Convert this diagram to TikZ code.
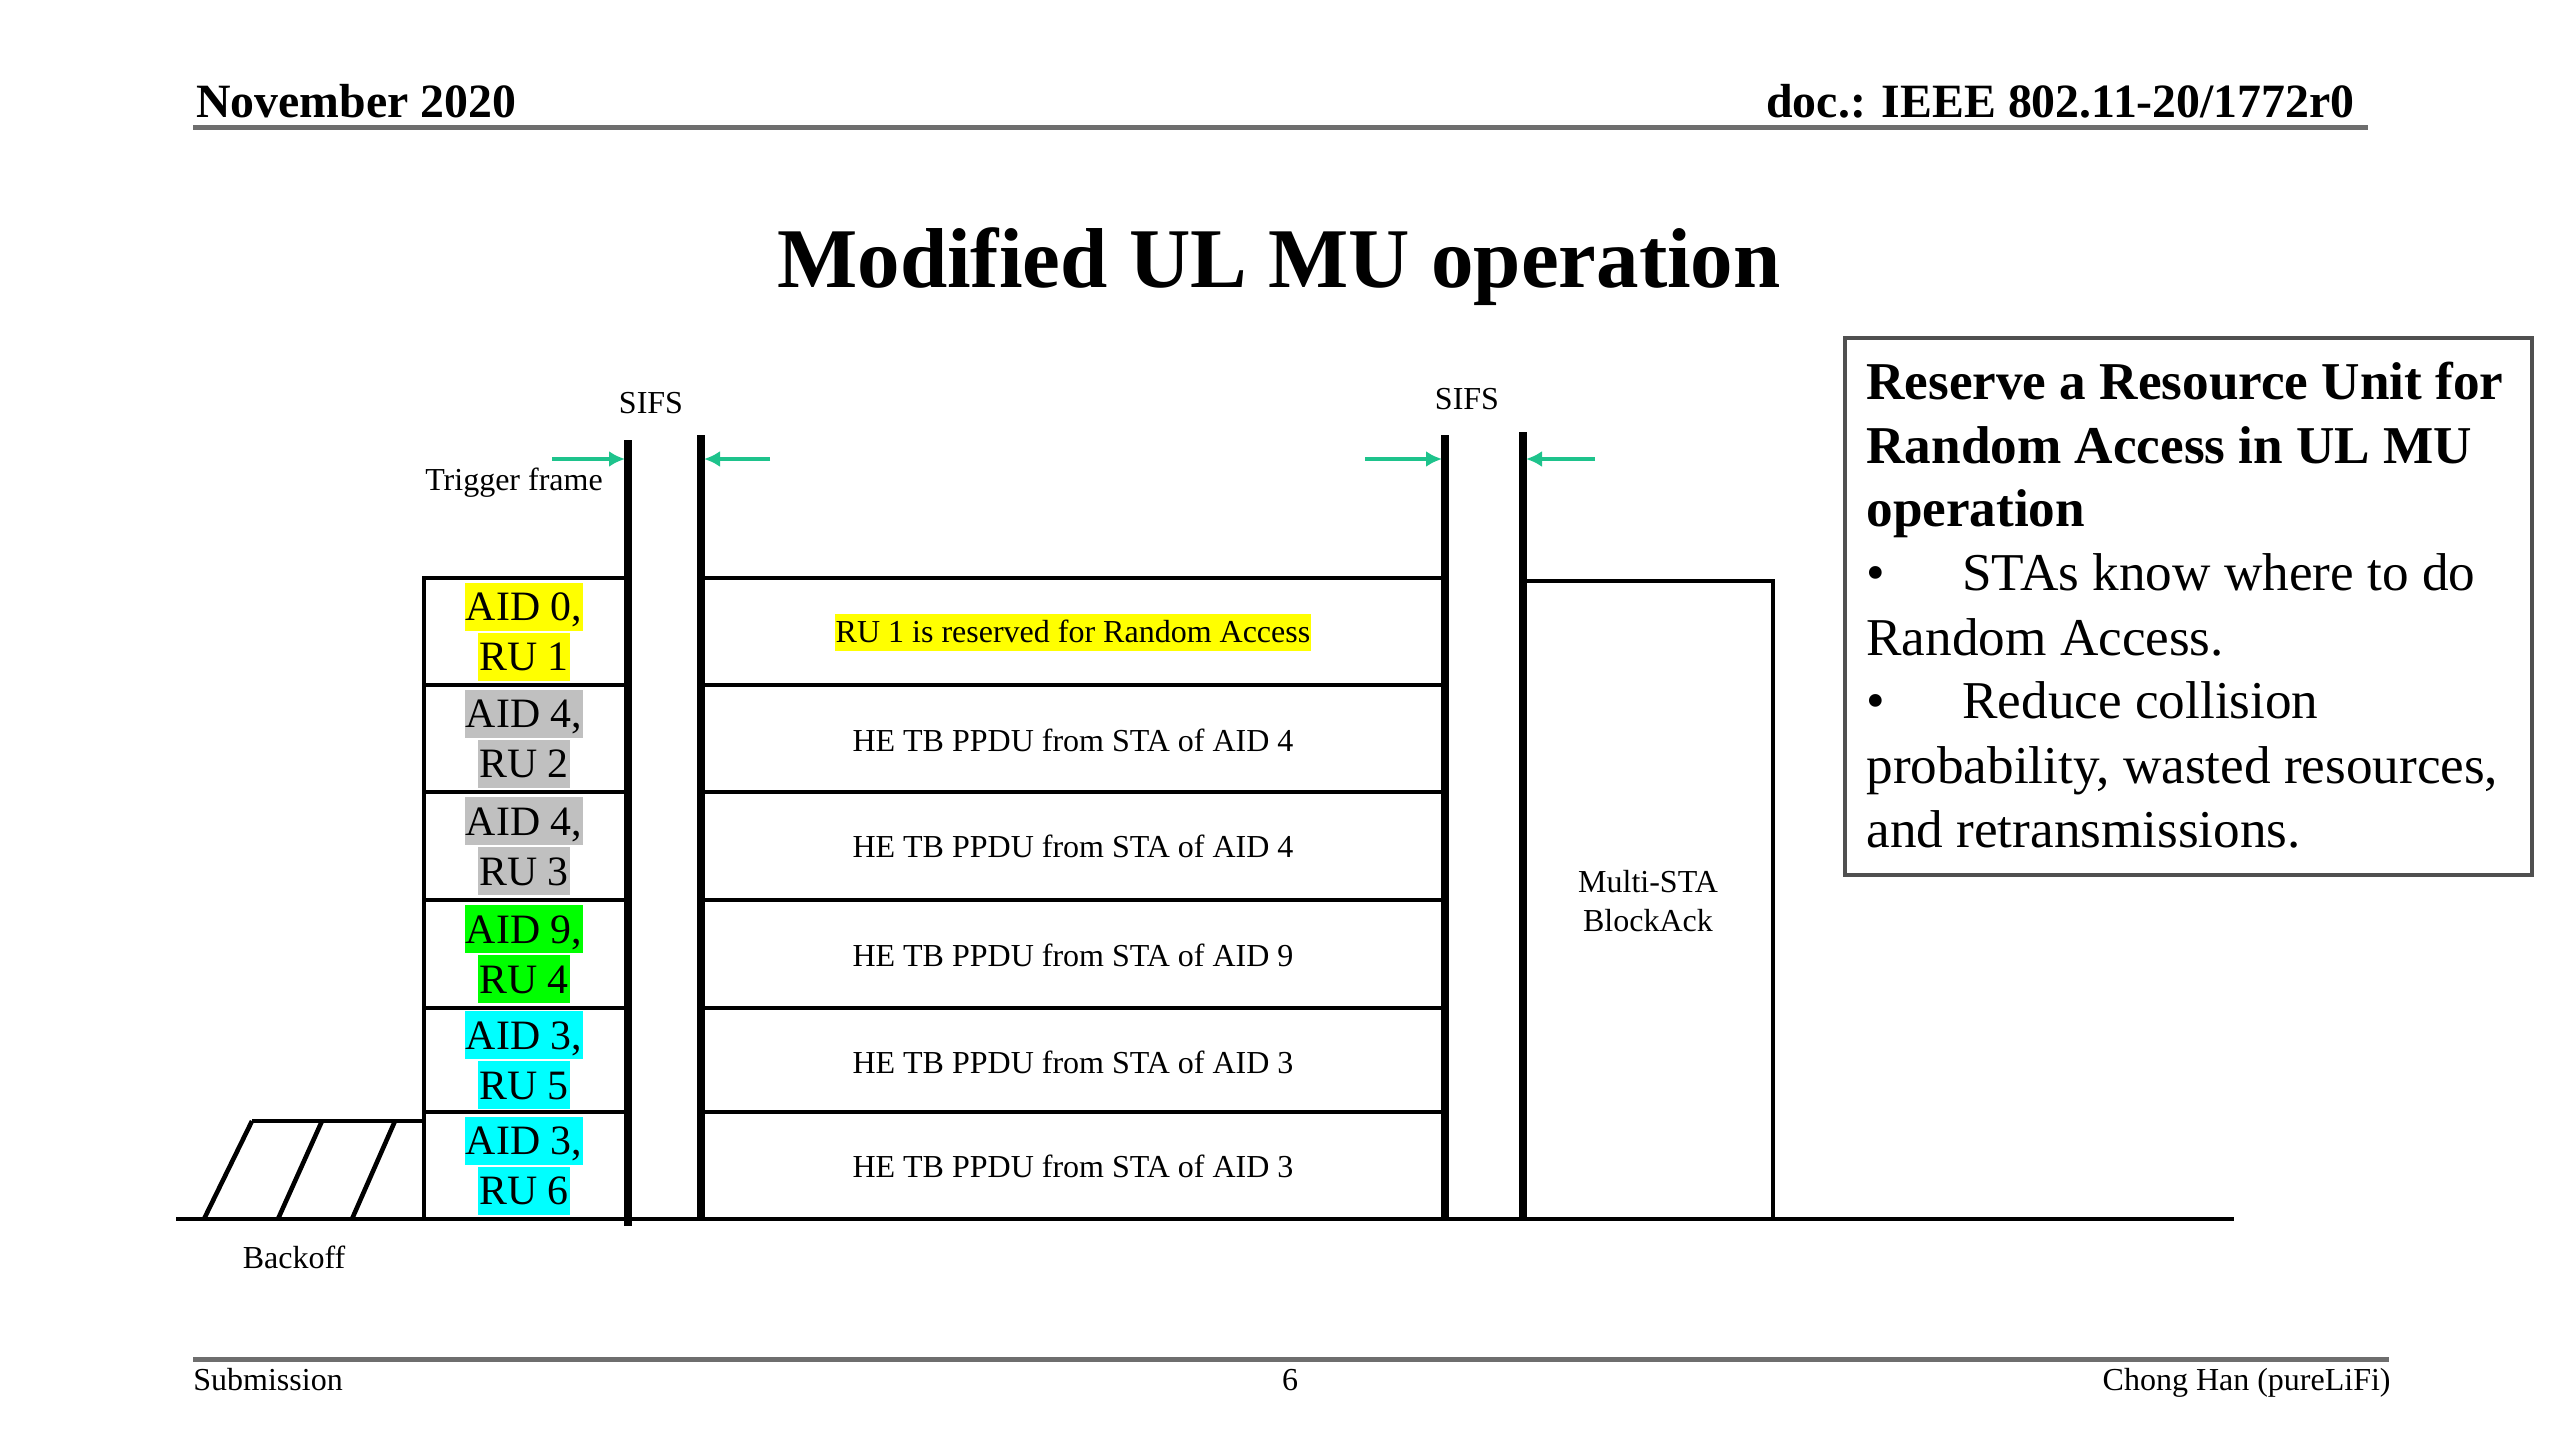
\documentclass[tikz,border=0pt]{standalone}
\usepackage{fontspec}
\setmainfont{Liberation Serif}
\usetikzlibrary{arrows.meta}
\definecolor{sifsgreen}{RGB}{30,195,140}
\definecolor{hlyellow}{RGB}{255,255,0}
\definecolor{hlgray}{RGB}{192,192,192}
\definecolor{hlgreen}{RGB}{0,255,0}
\definecolor{hlcyan}{RGB}{0,255,255}
\definecolor{rulegray}{RGB}{110,110,110}
\definecolor{boxgray}{RGB}{80,80,80}
\begin{document}
\begin{tikzpicture}[x=0.5pt,y=-0.5pt,
  txt/.style={inner sep=0pt, font=\fontsize{16pt}{19pt}\selectfont},
  boxtxt/.style={inner sep=0pt, anchor=base west, font=\fontsize{26.6pt}{32pt}\selectfont},
  aid/.style={fill=#1, inner xsep=0.7pt, inner ysep=0pt, text height=19pt, text depth=5pt, font=\fontsize{20.9pt}{24pt}\selectfont},
  rowline/.style={line width=2.2pt},
  vline/.style={line width=3.6pt},
  sifsarrow/.style={draw=sifsgreen, line width=1.6pt, -{Latex[length=8pt,width=8pt]}},
  hrule/.style={draw=rulegray, line width=2.5pt}]
\useasboundingbox (0,0) rectangle (2560,1440);

% header and footer
\node[inner sep=0pt, anchor=base west, font=\fontsize{23.9pt}{28pt}\selectfont\bfseries] (date) at (196,117) {November 2020};
\node[inner sep=0pt, anchor=base east, font=\fontsize{23.9pt}{28pt}\selectfont\bfseries] (doc) at (2355,117) {doc.: IEEE 802.11-20/1772r0};
\coordinate (hl) at (193,127); \coordinate (hr) at (2368,127);
\draw[hrule] (hl) -- (hr);
\node[inner sep=0pt, anchor=base, font=\fontsize{42.5pt}{50pt}\selectfont\bfseries] (title) at (1279,287) {Modified UL MU operation};
\coordinate (fl) at (193,1359); \coordinate (fr) at (2389,1359);
\draw[hrule] (fl) -- (fr);
\node[txt, anchor=base west] (sub) at (193,1390) {Submission};
\node[txt, anchor=base] (page) at (1290,1390) {6};
\node[txt, anchor=base east] (author) at (2391,1390) {Chong Han (pureLiFi)};

% baseline
\coordinate (b0) at (176,1219); \coordinate (b1) at (2234,1219);
\draw[rowline] (b0) -- (b1);

% backoff
\coordinate (bk0) at (252,1121); \coordinate (bk1) at (424,1121);
\draw[line width=2.3pt] (bk0) -- (bk1);
\foreach \xb/\xt [count=\i] in {204/252, 278/322, 352/395}{
  \coordinate (sb\i) at (\xb,1219); \coordinate (st\i) at (\xt,1121);
  \draw[line width=2.3pt] (sb\i) -- (st\i);
}
\node[txt] (backoff) at (294,1257) {Backoff};

% AID box
\coordinate (ab0) at (628,578); \coordinate (ab1) at (424,578); \coordinate (ab2) at (424,1219);
\draw[rowline] (ab0) -- (ab1) -- (ab2);
\foreach \y [count=\i] in {685,792,900,1008,1112}{
  \coordinate (al\i) at (424,\y); \coordinate (ar\i) at (628,\y);
  \draw[rowline] (al\i) -- (ar\i);
}

% PPDU box
\coordinate (pb0) at (701,578); \coordinate (pb1) at (1445,578);
\draw[rowline] (pb0) -- (pb1);
\foreach \y [count=\i] in {685,792,900,1008,1112}{
  \coordinate (pl\i) at (701,\y); \coordinate (pr\i) at (1445,\y);
  \draw[rowline] (pl\i) -- (pr\i);
}

% BlockAck box
\coordinate (ba0) at (1523,581); \coordinate (ba1) at (1773,581); \coordinate (ba2) at (1773,1219);
\draw[rowline] (ba0) -- (ba1) -- (ba2);
\node[inner sep=0pt, align=center, font=\fontsize{16pt}{19.5pt}\selectfont] (mba) at (1648,901) {Multi-STA\\BlockAck};

% vertical SIFS lines
\coordinate (v1t) at (628,440);  \coordinate (v1b) at (628,1226);
\coordinate (v2t) at (701,435);  \coordinate (v2b) at (701,1221);
\coordinate (v3t) at (1445,435); \coordinate (v3b) at (1445,1221);
\coordinate (v4t) at (1523,432); \coordinate (v4b) at (1523,1221);
\draw[vline] (v1t) -- (v1b);
\draw[vline] (v2t) -- (v2b);
\draw[vline] (v3t) -- (v3b);
\draw[vline] (v4t) -- (v4b);

% SIFS arrows
\coordinate (a1s) at (552,459);  \coordinate (a1e) at (625,459);
\coordinate (a2s) at (770,459);  \coordinate (a2e) at (704,459);
\coordinate (a3s) at (1365,459); \coordinate (a3e) at (1442,459);
\coordinate (a4s) at (1595,459); \coordinate (a4e) at (1526,459);
\draw[sifsarrow] (a1s) -- (a1e);
\draw[sifsarrow] (a2s) -- (a2e);
\draw[sifsarrow] (a3s) -- (a3e);
\draw[sifsarrow] (a4s) -- (a4e);
\node[txt] (sifs1) at (651,403) {SIFS};
\node[txt] (sifs2) at (1467,399) {SIFS};
\node[txt] (trig) at (514,483) {Trigger frame};

% AID labels
\foreach \aidn/\run/\col/\yc [count=\i] in {0/1/hlyellow/631.5, 4/2/hlgray/738.5, 4/3/hlgray/846, 9/4/hlgreen/954, 3/5/hlcyan/1060, 3/6/hlcyan/1165.5}{
  \node[aid=\col] (aidA\i) at (524,\yc-25) {AID \aidn,};
  \node[aid=\col] (aidB\i) at (524,\yc+25) {RU \run};
}

% PPDU labels
\node[fill=hlyellow, inner xsep=0.5pt, inner ysep=0pt, text height=14.5pt, text depth=4pt, font=\fontsize{16pt}{19pt}\selectfont] (ra) at (1073,632) {RU 1 is reserved for Random Access};
\foreach \aidn/\yc [count=\i] in {4/740, 4/846, 9/955, 3/1062, 3/1166}{
  \node[txt] (pp\i) at (1073,\yc) {HE TB PPDU from STA of AID \aidn};
}

% right box
\coordinate (rb0) at (1845,338); \coordinate (rb1) at (2532,875);
\draw[draw=boxgray, line width=1.6pt] (rb0) rectangle (rb1);
\node[boxtxt, font=\fontsize{26.6pt}{32pt}\selectfont\bfseries] (r1) at (1866,399) {Reserve a Resource Unit for};
\node[boxtxt, font=\fontsize{26.6pt}{32pt}\selectfont\bfseries] (r2) at (1866,463) {Random Access in UL MU};
\node[boxtxt, font=\fontsize{26.6pt}{32pt}\selectfont\bfseries] (r3) at (1866,526) {operation};
\node[boxtxt] (r4) at (1866,590) {\makebox[48pt][l]{•}STAs know where to do};
\node[boxtxt] (r5) at (1866,655) {Random Access.};
\node[boxtxt] (r6) at (1866,718) {\makebox[48pt][l]{•}Reduce collision};
\node[boxtxt] (r7) at (1866,783) {probability, wasted resources,};
\node[boxtxt] (r8) at (1866,847) {and retransmissions.};
\end{tikzpicture}
\end{document}
